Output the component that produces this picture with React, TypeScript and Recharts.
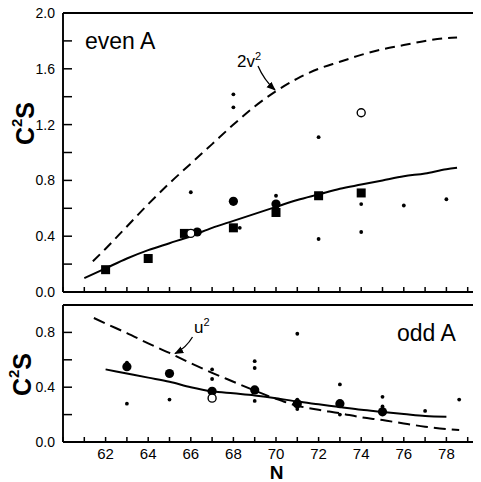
import React from "react";
import { ComposedChart, Line, Scatter, XAxis, YAxis } from "recharts";

const FONT = '"Liberation Sans", Arial, Helvetica, sans-serif';

// neutron number ticks
const nTicks = [60, 61, 62, 63, 64, 65, 66, 67, 68, 69, 70, 71, 72, 73, 74, 75, 76, 77, 78, 79, 80];
const evenTicks = [0, 0.2, 0.4, 0.6, 0.8, 1.0, 1.2, 1.4, 1.6, 1.8, 2.0];
const oddTicks = [0, 0.2, 0.4, 0.6, 0.8, 1.0];

// even A panel
const evenFit = [
  { n: 61, c: 0.1 }, { n: 62, c: 0.17 }, { n: 63, c: 0.24 }, { n: 64, c: 0.3 },
  { n: 65, c: 0.35 }, { n: 66, c: 0.4 }, { n: 67, c: 0.46 }, { n: 68, c: 0.51 },
  { n: 69, c: 0.56 }, { n: 70, c: 0.61 }, { n: 71, c: 0.66 }, { n: 72, c: 0.7 },
  { n: 73, c: 0.74 }, { n: 74, c: 0.77 }, { n: 75, c: 0.8 }, { n: 76, c: 0.83 },
  { n: 77, c: 0.85 }, { n: 78, c: 0.88 }, { n: 78.5, c: 0.89 },
];
const evenV2 = [
  { n: 61.4, c: 0.22 }, { n: 62, c: 0.31 }, { n: 63, c: 0.47 }, { n: 64, c: 0.63 },
  { n: 65, c: 0.78 }, { n: 66, c: 0.92 }, { n: 67, c: 1.06 }, { n: 68, c: 1.2 },
  { n: 69, c: 1.33 }, { n: 70, c: 1.44 }, { n: 71, c: 1.53 }, { n: 72, c: 1.6 },
  { n: 73, c: 1.65 }, { n: 74, c: 1.7 }, { n: 75, c: 1.74 }, { n: 76, c: 1.77 },
  { n: 77, c: 1.8 }, { n: 78, c: 1.82 }, { n: 78.5, c: 1.825 },
];
const evenSquares = [
  { n: 62, c: 0.16 }, { n: 64, c: 0.24 }, { n: 65.7, c: 0.42 }, { n: 68, c: 0.46 },
  { n: 70, c: 0.57 }, { n: 72, c: 0.69 }, { n: 74, c: 0.71 },
];
const evenDiscs = [{ n: 66.3, c: 0.43 }, { n: 68, c: 0.65 }, { n: 70, c: 0.63 }];
const evenRings = [{ n: 66, c: 0.42 }, { n: 74, c: 1.285 }];
const evenDots = [
  { n: 66, c: 0.715 }, { n: 68, c: 1.417 }, { n: 68, c: 1.324 }, { n: 68.3, c: 0.46 },
  { n: 70, c: 0.69 }, { n: 72, c: 1.11 }, { n: 72, c: 0.38 }, { n: 74, c: 0.63 },
  { n: 74, c: 0.43 }, { n: 76, c: 0.62 }, { n: 78, c: 0.665 },
];

// odd A panel
const oddFit = [
  { n: 62, c: 0.53 }, { n: 63, c: 0.5 }, { n: 64, c: 0.47 }, { n: 65, c: 0.44 },
  { n: 66, c: 0.4 }, { n: 67, c: 0.37 }, { n: 68, c: 0.355 }, { n: 69, c: 0.34 },
  { n: 70, c: 0.32 }, { n: 71, c: 0.295 }, { n: 72, c: 0.275 }, { n: 73, c: 0.255 },
  { n: 74, c: 0.235 }, { n: 75, c: 0.22 }, { n: 76, c: 0.205 }, { n: 77, c: 0.19 },
  { n: 78, c: 0.185 },
];
const oddU2 = [
  { n: 61.45, c: 0.905 }, { n: 62, c: 0.865 }, { n: 63, c: 0.795 }, { n: 64, c: 0.72 },
  { n: 65, c: 0.65 }, { n: 66, c: 0.575 }, { n: 67, c: 0.505 }, { n: 68, c: 0.44 },
  { n: 69, c: 0.375 }, { n: 70, c: 0.315 }, { n: 71, c: 0.265 }, { n: 72, c: 0.235 },
  { n: 73, c: 0.21 }, { n: 74, c: 0.18 }, { n: 75, c: 0.16 }, { n: 76, c: 0.135 },
  { n: 77, c: 0.112 }, { n: 78, c: 0.095 }, { n: 78.6, c: 0.088 },
];
const oddDiscs = [
  { n: 63, c: 0.55 }, { n: 65, c: 0.5 }, { n: 67, c: 0.37 }, { n: 69, c: 0.38 },
  { n: 71, c: 0.28 }, { n: 73, c: 0.28 }, { n: 75, c: 0.22 },
];
const oddRings = [{ n: 67, c: 0.32 }];
const oddDots = [
  { n: 63, c: 0.28 }, { n: 63, c: 0.58 }, { n: 65, c: 0.31 }, { n: 67, c: 0.53 },
  { n: 67, c: 0.46 }, { n: 69, c: 0.59 }, { n: 69, c: 0.54 }, { n: 69, c: 0.3 },
  { n: 71, c: 0.79 }, { n: 71, c: 0.24 }, { n: 71, c: 0.31 }, { n: 73, c: 0.42 },
  { n: 73, c: 0.2 }, { n: 75, c: 0.33 }, { n: 75, c: 0.26 }, { n: 77, c: 0.227 },
  { n: 78.6, c: 0.31 },
];

const square = (p: any) => (
  <rect x={p.cx - 4.5} y={p.cy - 4.5} width={9} height={9} fill="#000" />
);
const disc = (p: any) => <circle cx={p.cx} cy={p.cy} r={4.6} fill="#000" />;
const ring = (p: any) => (
  <circle cx={p.cx} cy={p.cy} r={4} fill="#fff" stroke="#000" strokeWidth={1.4} />
);
const dot = (p: any) => <circle cx={p.cx} cy={p.cy} r={1.9} fill="#000" />;

const yFmt = (v: number) => (Math.round(v * 10) % 4 === 0 ? v.toFixed(1) : "");
const nFmt = (v: number) => (v % 2 === 0 && v > 60 && v < 80 ? String(v) : "");

const TW = 1.5;

// inward ticks drawn by hand, labels outside
const leftTick = (p: any) => (
  <g>
    <line x1={p.x} y1={p.y} x2={p.x + 9} y2={p.y} stroke="#000" strokeWidth={TW} />
    <text x={p.x - 8} y={p.y} dy="0.36em" textAnchor="end" fontSize={14} fill="#000" fontFamily={FONT}>
      {yFmt(p.payload.value)}
    </text>
  </g>
);
const rightTick = (p: any) => (
  <line x1={p.x} y1={p.y} x2={p.x - 9} y2={p.y} stroke="#000" strokeWidth={TW} />
);
const topTick = (p: any) => (
  <line x1={p.x} y1={p.y} x2={p.x} y2={p.y + 5} stroke="#000" strokeWidth={TW} />
);
const bottomTick = (p: any) => (
  <line x1={p.x} y1={p.y} x2={p.x} y2={p.y - 5} stroke="#000" strokeWidth={TW} />
);
const bottomTickLabelled = (p: any) => (
  <g>
    <line x1={p.x} y1={p.y} x2={p.x} y2={p.y - 5} stroke="#000" strokeWidth={TW} />
    <text x={p.x} y={p.y + 6} dy="0.72em" textAnchor="middle" fontSize={15} fill="#000" fontFamily={FONT}>
      {nFmt(p.payload.value)}
    </text>
  </g>
);

const frameLine = { stroke: "#000", strokeWidth: 1.9 };

function Frame({ yTicks, yDomain, labels }: { yTicks: number[]; yDomain: number[]; labels: boolean }) {
  return [
    <XAxis
      key="xb"
      dataKey="n"
      type="number"
      domain={[60, 80]}
      ticks={nTicks}
      interval={0}
      height={labels ? 30 : 1}
      tick={labels ? bottomTickLabelled : bottomTick}
      tickSize={0}
      tickMargin={0}
      tickLine={false}
      stroke="#000"
      strokeWidth={1.9}
      axisLine={frameLine}
    />,
    <XAxis
      key="xt"
      xAxisId="top"
      orientation="top"
      type="number"
      domain={[60, 80]}
      ticks={nTicks}
      interval={0}
      height={1}
      tick={topTick}
      tickSize={0}
      tickMargin={0}
      tickLine={false}
      stroke="#000"
      strokeWidth={1.9}
      axisLine={frameLine}
    />,
    <YAxis
      key="yl"
      type="number"
      domain={yDomain}
      ticks={yTicks}
      interval={0}
      width={63}
      tick={leftTick}
      tickSize={0}
      tickMargin={0}
      tickLine={false}
      stroke="#000"
      strokeWidth={1.9}
      axisLine={frameLine}
    />,
    <YAxis
      key="yr"
      yAxisId="right"
      orientation="right"
      type="number"
      domain={yDomain}
      ticks={yTicks}
      interval={0}
      width={1}
      tick={rightTick}
      tickSize={0}
      tickMargin={0}
      tickLine={false}
      stroke="#000"
      strokeWidth={1.9}
      axisLine={frameLine}
    />,
  ];
}

function EvenPanel() {
  return (
    <ComposedChart width={495} height={303} margin={{ top: 12, right: 5, bottom: 10, left: 0 }}>
      {Frame({ yTicks: evenTicks, yDomain: [0, 2], labels: false })}
      <Line data={evenV2} dataKey="c" type="monotone" stroke="#000" strokeWidth={2}
        strokeDasharray="10 6" dot={false} activeDot={false} isAnimationActive={false} />
      <Line data={evenFit} dataKey="c" type="monotone" stroke="#000" strokeWidth={2}
        dot={false} activeDot={false} isAnimationActive={false} />
      <Scatter data={evenDots} dataKey="c" shape={dot} isAnimationActive={false} />
      <Scatter data={evenSquares} dataKey="c" shape={square} isAnimationActive={false} />
      <Scatter data={evenDiscs} dataKey="c" shape={disc} isAnimationActive={false} />
      <Scatter data={evenRings} dataKey="c" shape={ring} isAnimationActive={false} />
    </ComposedChart>
  );
}

function OddPanel() {
  return (
    <ComposedChart width={495} height={182} margin={{ top: 14, right: 5, bottom: 0, left: 0 }}>
      {Frame({ yTicks: oddTicks, yDomain: [0, 1], labels: true })}
      <Line data={oddU2} dataKey="c" type="monotone" stroke="#000" strokeWidth={2}
        strokeDasharray="12 6" dot={false} activeDot={false} isAnimationActive={false} />
      <Line data={oddFit} dataKey="c" type="monotone" stroke="#000" strokeWidth={2}
        dot={false} activeDot={false} isAnimationActive={false} />
      <Scatter data={oddDots} dataKey="c" shape={dot} isAnimationActive={false} />
      <Scatter data={oddDiscs} dataKey="c" shape={disc} isAnimationActive={false} />
      <Scatter data={oddRings} dataKey="c" shape={ring} isAnimationActive={false} />
    </ComposedChart>
  );
}

export default function App() {
  return (
    <div style={{ position: "relative", margin: "-8px 0 0 -8px", width: 481, height: 482, overflow: "hidden", fontFamily: FONT }}>
      <div style={{ position: "absolute", left: 0, top: 0 }}>
        <EvenPanel />
      </div>
      <div style={{ position: "absolute", left: 0, top: 290 }}>
        <OddPanel />
      </div>
      <svg width={481} height={482} style={{ position: "absolute", left: 0, top: 0, pointerEvents: "none" }}
        fontFamily={FONT}>
        <defs>
          <marker id="head" viewBox="0 0 10 10" refX="9" refY="5" markerWidth="7" markerHeight="7" orient="auto">
            <path d="M0,1 L10,5 L0,9 Z" fill="#000" />
          </marker>
        </defs>
        <text x={85} y={48.5} fontSize={23}>even A</text>
        <text x={397} y={340.5} fontSize={23}>odd A</text>
        <text x={237} y={67} fontSize={17}>
          2v<tspan dy={-7} fontSize={11}>2</tspan>
        </text>
        <path d="M258,66 Q264,80 275,90" fill="none" stroke="#000" strokeWidth={1.3} markerEnd="url(#head)" />
        <text x={194} y={333} fontSize={17}>
          u<tspan dy={-7} fontSize={11}>2</tspan>
        </text>
        <path d="M192.5,337 Q186,348 175,353.5" fill="none" stroke="#000" strokeWidth={1.3} markerEnd="url(#head)" />
        <text transform="translate(25,123.5) rotate(-90)" textAnchor="middle" dominantBaseline="central"
          fontSize={25} fontWeight="bold">
          C<tspan dy={-9} fontSize={15}>2</tspan><tspan dy={9}>S</tspan>
        </text>
        <text transform="translate(22,374.5) rotate(-90)" textAnchor="middle" dominantBaseline="central"
          fontSize={25} fontWeight="bold">
          C<tspan dy={-9} fontSize={15}>2</tspan><tspan dy={9}>S</tspan>
        </text>
        <text x={276.7} y={479} textAnchor="middle" fontSize={19} fontWeight="bold">N</text>
      </svg>
    </div>
  );
}
